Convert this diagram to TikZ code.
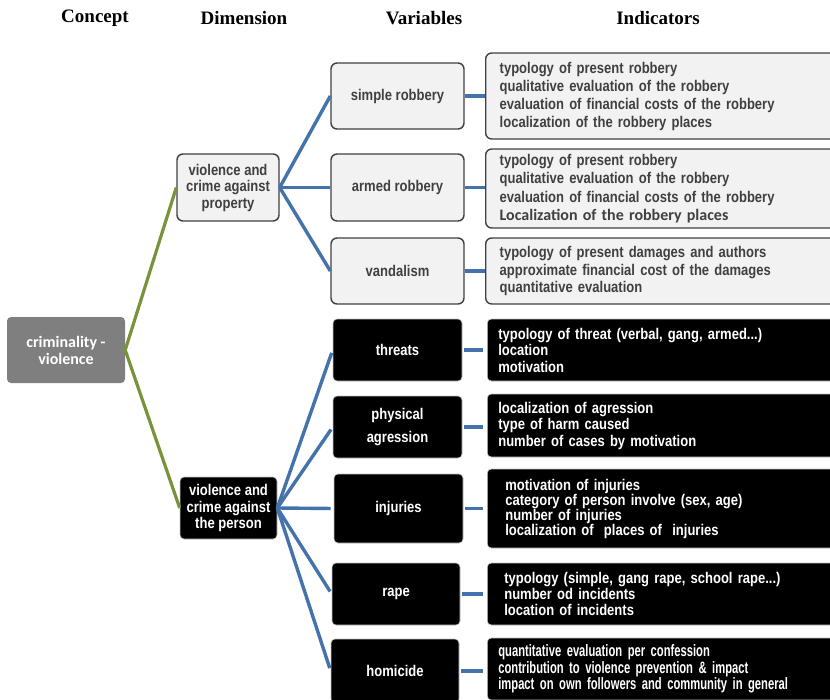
\documentclass[tikz,border=0pt]{standalone}
\usepackage{fontspec}
\setmainfont{Liberation Serif}
\newfontfamily\arialn[FakeStretch=0.84]{Liberation Sans}
\newfontfamily\arialc[FakeStretch=0.68]{Liberation Sans}
\newfontfamily\calib{Carlito}
\definecolor{linkblue}{HTML}{4472AA}
\definecolor{linkgreen}{HTML}{77933C}
\definecolor{boxfill}{HTML}{F2F2F2}
\definecolor{boxedge}{HTML}{404040}
\definecolor{txtgray}{HTML}{404040}
\definecolor{conceptgray}{HTML}{7F7F7F}
\begin{document}
\begin{tikzpicture}[x=1pt,y=-1pt,
  header/.style={font=\bfseries\fontsize{19}{22}\selectfont, inner sep=0pt},
  lightbox/.style={draw=boxedge, fill=boxfill, line width=1.4pt, rounded corners=6pt,
    text=txtgray, align=center, inner sep=0pt,
    font=\arialn\bfseries\fontsize{15.5}{16.5}\selectfont},
  darkbox/.style={draw=gray!45, fill=black, line width=0.6pt, rounded corners=4pt,
    text=white, align=center, inner sep=0pt,
    font=\arialn\bfseries\fontsize{15.5}{16.5}\selectfont},
  indlight/.style={lightbox, anchor=west, align=left, text width=330pt, inner xsep=14pt},
  inddark/.style={darkbox, anchor=west, align=left, text width=330pt, inner xsep=14pt},
  bluelink/.style={draw=linkblue, line width=3.4pt},
  greenlink/.style={draw=linkgreen, line width=3.2pt},
]
\useasboundingbox (0,0) rectangle (830,699);
\clip (0,0) rectangle (830,699);

% column headers
\node[header] (hconcept) at (95,18) {Concept};
\node[header] (hdim) at (244,18) {Dimension};
\node[header] (hvar) at (424,18) {Variables};
\node[header] (hind) at (658,18) {Indicators};

% concept
\node[fill=conceptgray, rounded corners=4pt, text=white, align=center, inner sep=0pt,
  minimum width=118pt, minimum height=66pt,
  font=\calib\bfseries\fontsize{16}{17}\selectfont] (concept) at (66,350)
  {criminality -\\violence};

% dimensions
\node[lightbox, minimum width=102pt, minimum height=67pt] (prop) at (228,187.5)
  {violence and\\crime against\\property};
\node[darkbox, minimum width=97pt, minimum height=62pt] (pers) at (228.5,508)
  {violence and\\crime against\\the person};

% variables: property
\node[lightbox, minimum width=133pt, minimum height=66pt] (simple) at (397.5,96) {simple robbery};
\node[lightbox, minimum width=133pt, minimum height=67pt] (armed) at (397.5,187.5) {armed robbery};
\node[lightbox, minimum width=133pt, minimum height=66pt] (vand) at (397.5,271) {vandalism};

% variables: person
\node[darkbox, minimum width=129pt, minimum height=62pt] (threat) at (397.5,350) {threats};
\node[darkbox, minimum width=129pt, minimum height=62pt,
  font=\arialn\bfseries\fontsize{15.5}{23}\selectfont] (phys) at (397.5,427) {physical\\agression};
\node[darkbox, minimum width=129pt, minimum height=69pt] (inj) at (398.5,508.5) {injuries};
\node[darkbox, minimum width=128pt, minimum height=62pt] (rape) at (396,594) {rape};
\node[darkbox, minimum width=128pt, minimum height=64pt] (homi) at (395,671) {homicide};

% indicators: property
\node[indlight, minimum height=86pt, font=\arialn\bfseries\fontsize{15.5}{18}\selectfont] (i1) at (485,96)
  {\rule{0pt}{13pt}typology of present robbery\\qualitative evaluation of the robbery\\evaluation of financial costs of the robbery\\localization of the robbery places};
\node[indlight, minimum height=79pt, font=\arialn\bfseries\fontsize{15.5}{18.5}\selectfont] (i2) at (485,188.5)
  {typology of present robbery\\qualitative evaluation of the robbery\\evaluation of financial costs of the robbery\\{\calib\fontsize{16}{18.5}\selectfont Localization of the robbery places}};
\node[indlight, minimum height=66pt, font=\arialn\bfseries\fontsize{15.5}{17.5}\selectfont] (i3) at (485,271)
  {typology of present damages and authors\\approximate financial cost of the damages\\quantitative evaluation};

% indicators: person
\node[inddark, inner xsep=11pt, minimum height=62pt] (i4) at (487,350)
  {typology of threat (verbal, gang, armed...)\\location\\motivation};
\node[inddark, inner xsep=11pt, minimum height=63pt] (i5) at (487,425.5)
  {localization of agression\\type of harm caused\\number of cases by motivation};
\node[inddark, inner xsep=18pt, minimum height=79pt, font=\arialn\bfseries\fontsize{15.5}{15}\selectfont] (i6) at (487,508.5)
  {motivation of injuries\\category of person involve (sex, age)\\number of injuries\\localization of\ \ places of\ \ injuries};
\node[inddark, inner xsep=17pt, minimum height=62pt, font=\arialn\bfseries\fontsize{15.5}{16}\selectfont] (i7) at (487,594)
  {typology (simple, gang rape, school rape...)\\number od incidents\\location of incidents};
\node[inddark, inner xsep=11pt, minimum height=62pt, font=\arialc\bfseries\fontsize{16.5}{16.5}\selectfont] (i8) at (487,669)
  {quantitative evaluation per confession\\contribution to violence prevention \& impact\\impact on own followers and community in general};

% concept to dimensions
\draw[greenlink] (prop.west) -- (concept.east) -- (pers.west);

% dimensions to variables
\foreach \v in {simple,armed,vand}
  \draw[bluelink] (prop.east) -- (\v.west);
\foreach \v in {threat,phys,inj,rape,homi}
  \draw[bluelink, shorten >=3pt] (pers.east) -- (\v.west);

% variables to indicators
\draw[bluelink] (simple.east) -- (i1.west |- simple.east);
\draw[bluelink] (armed.east) -- (i2.west |- armed.east);
\draw[bluelink] (vand.east) -- (i3.west |- vand.east);
\draw[bluelink, shorten <=2pt, shorten >=4pt] (threat.east) -- (i4.west |- threat.east);
\draw[bluelink, shorten <=2pt, shorten >=4pt] (phys.east) -- (i5.west |- phys.east);
\draw[bluelink, shorten <=2pt, shorten >=4pt] (inj.east) -- (i6.west |- inj.east);
\draw[bluelink, shorten <=2pt, shorten >=4pt] (rape.east) -- (i7.west |- rape.east);
\draw[bluelink, shorten <=2pt, shorten >=4pt] (homi.east) -- (i8.west |- homi.east);
\end{tikzpicture}
\end{document}
